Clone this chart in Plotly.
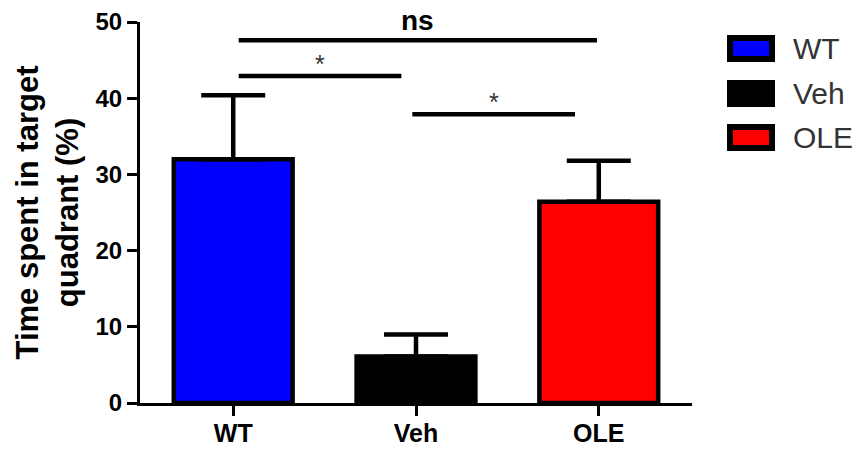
import plotly.graph_objects as go

# Group means and upper SEM of time spent in the target quadrant (%)
groups = ["WT", "Veh", "OLE"]
means = [32.0, 6.1, 26.4]
sem = [8.4, 2.9, 5.4]
bar_colors = ["#0000FF", "#000000", "#FF0000"]

# Pairwise comparisons: bracket start/end (category index), height, label
sig_x0 = [0.03, 0.03, 0.98]
sig_x1 = [1.99, 0.92, 1.87]
sig_y = [47.6, 42.9, 37.9]
sig_label = ["ns", "*", "*"]

y_ticks = [0, 10, 20, 30, 40, 50]

FONT = "Arial, Liberation Sans, sans-serif"

fig = go.Figure()
fig.add_trace(go.Bar(
    x=groups,
    y=means,
    width=0.65,
    marker=dict(color=bar_colors, line=dict(color="black", width=4.5)),
    error_y=dict(type="data", array=sem, arrayminus=[0] * len(sem),
                 symmetric=False, color="black", thickness=4.5, width=32),
    showlegend=False,
))

# Significance brackets
for x0, x1, y, lab in zip(sig_x0, sig_x1, sig_y, sig_label):
    fig.add_shape(type="line", xref="x", yref="y", x0=x0, x1=x1, y0=y, y1=y,
                  line=dict(color="black", width=4.5))
    is_ns = lab == "ns"
    fig.add_annotation(
        x=(x0 + x1) / 2, y=y, xref="x", yref="y", text=lab, showarrow=False,
        yanchor="bottom", yshift=2 if is_ns else -4,
        font=dict(family=FONT, size=28 if is_ns else 25,
                  color="black" if is_ns else "#333333",
                  weight="bold" if is_ns else "normal"),
    )

# Legend drawn as boxes with labels to the right of the plot
leg_top = [38, 83, 127]
for i, (g, c) in enumerate(zip(groups, bar_colors)):
    y0 = leg_top[i]
    fig.add_shape(type="rect", xref="paper", yref="paper",
                  x0=(730 - 140) / 552, x1=(772 - 140) / 552,
                  y0=(403 - y0) / 381, y1=(403 - (y0 + 21)) / 381,
                  line=dict(color="black", width=6), fillcolor=c)
    fig.add_annotation(x=(791 - 140) / 552, y=(403 - (y0 + 10.5)) / 381,
                       xref="paper", yref="paper", text=g, showarrow=False,
                       xanchor="left", yanchor="middle",
                       font=dict(family=FONT, size=30, color="#333333"))

# Y axis title
fig.add_annotation(x=(47 - 140) / 552, y=0.5, xref="paper", yref="paper",
                   text="Time spent in target<br>quadrant (%)", showarrow=False,
                   textangle=-90, xanchor="center", yanchor="middle",
                   font=dict(family=FONT, size=31, color="black", weight="bold"))

fig.update_xaxes(
    range=[-0.51, 2.51], showline=True, linecolor="black", linewidth=3,
    ticks="outside", ticklen=10, tickwidth=3, tickcolor="black",
    tickfont=dict(family=FONT, size=25, color="black", weight="bold"),
    ticklabelstandoff=-4,
    showgrid=False, zeroline=False, automargin=False,
)
fig.update_yaxes(
    range=[0, 50], tickvals=y_ticks, showline=True, linecolor="black", linewidth=3,
    ticks="outside", ticklen=10, tickwidth=3, tickcolor="black",
    tickfont=dict(family=FONT, size=24, color="black", weight="bold"),
    showgrid=False, zeroline=False, automargin=False,
)

fig.update_layout(
    width=859, height=450,
    margin=dict(l=140, r=167, t=22, b=47),
    paper_bgcolor="white", plot_bgcolor="white",
    bargap=0.35,
)

fig.write_html("out.html")
